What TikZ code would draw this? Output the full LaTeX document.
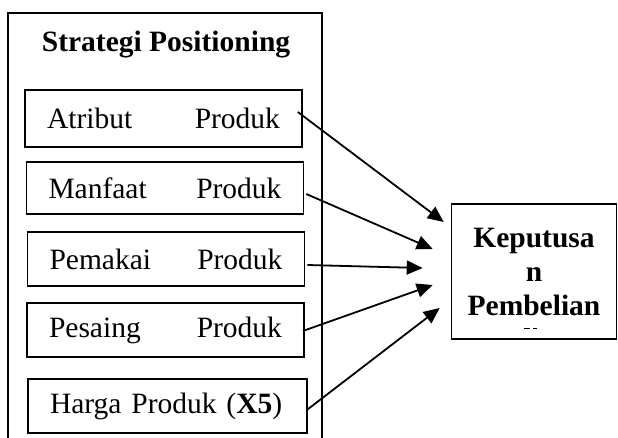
\documentclass[tikz,border=0pt]{standalone}
\usepackage{fontspec}
\setmainfont{Liberation Serif}
\usetikzlibrary{arrows.meta,calc}

\begin{document}
\begin{tikzpicture}[
  x=1pt,y=-1pt,
  >={Triangle[length=16pt,width=14pt]},
  frame/.style={line width=1.4pt},
  item/.style={rectangle,draw,line width=1.6pt,minimum height=54pt,
               text width=233pt,inner xsep=22pt,inner ysep=0pt,align=left,
               font=\fontsize{29.5}{34}\selectfont},
  ttl/.style={font=\fontsize{29.5}{34}\selectfont\bfseries},
  res/.style={rectangle,draw,line width=1.6pt,minimum width=165pt,
              minimum height=135pt,align=center,inner sep=0pt,
              font=\fontsize{29.5}{34}\selectfont\bfseries},
  link/.style={->,line width=1.8pt}
]
\useasboundingbox (0,0) rectangle (618,437);

% open frame round the five indicators
\draw[frame] (8,440) -- (8,13) -- (322,13) -- (322,440);
\node[ttl] (S) at (166,45) {Strategi Positioning};

\node[item,minimum height=57pt] (A) at (163.5,118.5) {Atribut\hfill Produk};
\node[item,minimum height=52pt] (M) at (165,188) {Manfaat\hfill Produk};
\node[item] (P) at (166,259) {Pemakai\hfill Produk};
\node[item] (C) at (165.5,330) {Pesaing\hfill Produk};
\node[item,text width=235pt] (H) at (167.5,406) {Harga Produk (\textbf{X5})};

\node[res] (K) at (534,271.5) {Keputusa\\n\\Pembelian};
\draw[line width=0.5pt,dash pattern=on 6pt off 3pt on 4pt off 20pt]
  (524,328) -- (552,328);

\draw[link] ($(A.east)+(-5,-6.5)$) -- ($(K.west)+(-7,-49.5)$);
\draw[link] ($(M.east)+(2,6)$)     -- ($(K.west)+(-18,-22.5)$);
\draw[link] ($(P.east)+(2,6)$)     -- ($(K.west)+(-28,-3.5)$);
\draw[link] ($(C.east)+(-2,1)$)    -- ($(K.west)+(-18,13.5)$);
\draw[link] ($(H.east)+(-1,4)$)    -- ($(K.west)+(-11,36.5)$);
\end{tikzpicture}
\end{document}
